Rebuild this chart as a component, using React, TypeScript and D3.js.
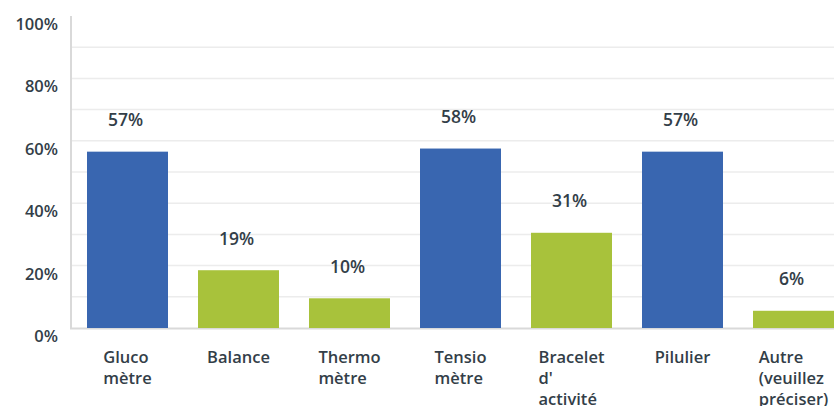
// Bar chart: appareils connectés utilisés
import React, { useEffect, useRef } from 'react';
import * as d3 from 'd3';

const categories = [
  ['Gluco', 'mètre'],
  ['Balance'],
  ['Thermo', 'mètre'],
  ['Tensio', 'mètre'],
  ['Bracelet', "d'", 'activité'],
  ['Pilulier'],
  ['Autre', '(veuillez', 'préciser)'],
];
const values = [57, 19, 10, 58, 31, 57, 6];
const barColors = ['#3966b0', '#a8c23b', '#a8c23b', '#3966b0', '#a8c23b', '#3966b0', '#a8c23b'];
const yTicks = [0, 20, 40, 60, 80, 100];
const gridTicks = [10, 20, 30, 40, 50, 60, 70, 80, 90];

const FONT = '"Open Sans", "Noto Sans", sans-serif';
const TEXT = '#333e48';

const App = () => {
  const svgRef = useRef<SVGSVGElement>(null);

  useEffect(() => {
    if (!svgRef.current) return;
    const svg = d3.select(svgRef.current);
    svg.selectAll('*').remove();

    const x = d3.scaleBand<number>()
      .domain(d3.range(values.length))
      .range([72, 849])
      .paddingInner(30 / 111)
      .paddingOuter(15 / 111);

    const y = d3.scaleLinear().domain([0, 100]).range([328, 16]);

    // gridlines
    svg.append('g')
      .selectAll('line')
      .data(gridTicks)
      .enter()
      .append('line')
      .attr('x1', 72)
      .attr('x2', 834)
      .attr('y1', d => y(d))
      .attr('y2', d => y(d))
      .attr('stroke', '#ececec')
      .attr('stroke-width', 1.5);

    // axes lines
    svg.append('line')
      .attr('x1', 71).attr('x2', 71)
      .attr('y1', y(100)).attr('y2', y(0) + 1)
      .attr('stroke', '#d9d9d9').attr('stroke-width', 2);
    svg.append('line')
      .attr('x1', 70).attr('x2', 834)
      .attr('y1', y(0) + 0.5).attr('y2', y(0) + 0.5)
      .attr('stroke', '#d9d9d9').attr('stroke-width', 2);

    // y tick labels
    svg.append('g')
      .selectAll('text')
      .data(yTicks)
      .enter()
      .append('text')
      .attr('x', 58)
      .attr('y', d => y(d) + 14)
      .attr('text-anchor', 'end')
      .attr('font-family', FONT)
      .attr('font-size', 16.5)
      .attr('font-weight', 600)
      .attr('fill', TEXT)
      .text(d => `${d}%`);

    // bars
    svg.append('g')
      .selectAll('rect')
      .data(values)
      .enter()
      .append('rect')
      .attr('x', (_, i) => x(i) || 0)
      .attr('y', d => y(d) + 1.5)
      .attr('width', x.bandwidth())
      .attr('height', d => y(0) - y(d) - 1.5)
      .attr('fill', (_, i) => barColors[i]);

    // value labels
    svg.append('g')
      .selectAll('text')
      .data(values)
      .enter()
      .append('text')
      .attr('x', (_, i) => (x(i) || 0) + x.bandwidth() / 2 - 2)
      .attr('y', d => y(d) - 24)
      .attr('text-anchor', 'middle')
      .attr('font-family', FONT)
      .attr('font-size', 17.5)
      .attr('font-weight', 600)
      .attr('fill', TEXT)
      .text(d => `${d}%`);

    // category labels: left-aligned lines, block centred on bar
    categories.forEach((lines, i) => {
      const t = svg.append('text')
        .attr('font-family', FONT)
        .attr('font-size', 16.5)
        .attr('font-weight', 600)
        .attr('fill', TEXT);
      const spans = lines.map((line, j) =>
        t.append('tspan').attr('x', 0).attr('y', 363 + j * 21).text(line)
      );
      const w = d3.max(spans, s => (s.node() as SVGTSpanElement).getComputedTextLength()) || 0;
      const cx = (x(i) || 0) + x.bandwidth() / 2;
      spans.forEach(s => s.attr('x', cx - w / 2));
    });
  }, []);

  return (
    <svg
      ref={svgRef}
      width={834}
      height={406}
      style={{ position: 'absolute', left: 0, top: 0, background: '#fff' }}
    />
  );
};

export default App;
